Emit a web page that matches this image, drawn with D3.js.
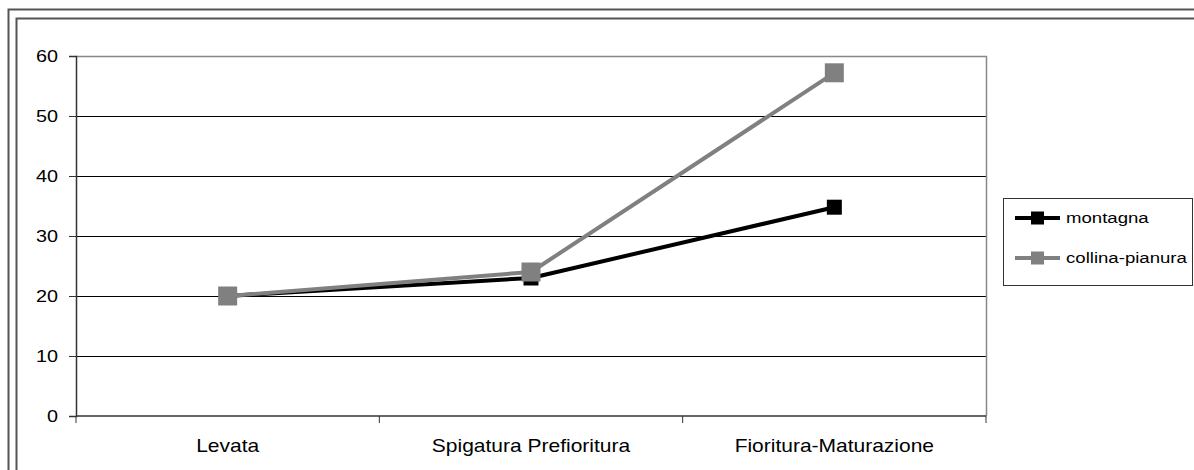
<!DOCTYPE html>
<html>
<head>
<meta charset="utf-8">
<script src="https://cdn.jsdelivr.net/npm/d3@7"></script>
<style>
  html, body { margin: 0; padding: 0; background: #fff; }
  svg { display: block; }
  text { font-family: "Liberation Sans", Arial, sans-serif; fill: #000; }
</style>
</head>
<body>
<svg id="chart" width="1194" height="470"></svg>
<script>
// Phenological stages on the x axis
const categories = ["Levata", "Spigatura Prefioritura", "Fioritura-Maturazione"];
// Series values per stage
const montagna = [20, 23, 34.8];
const collinaPianura = [20, 24, 57.2];
const seriesNames = ["montagna", "collina-pianura"];
// Y axis ticks
const yTicks = [0, 10, 20, 30, 40, 50, 60];

const svg = d3.select("#chart");
const plot = { left: 76, right: 986, top: 56, bottom: 416 };
const stretch = 1.2; // labels are drawn horizontally widened

// Outer double frame
svg.append("rect").attr("x", 8.5).attr("y", 9.5).attr("width", 1300).attr("height", 600)
  .attr("fill", "none").attr("stroke", "#555").attr("stroke-width", 2);
svg.append("rect").attr("x", 16.5).attr("y", 18.5).attr("width", 1300).attr("height", 600)
  .attr("fill", "none").attr("stroke", "#555").attr("stroke-width", 2);

const x = d3.scaleBand().domain(categories).range([plot.left, plot.right]).padding(0);
const y = d3.scaleLinear().domain([0, 60]).range([plot.bottom, plot.top]);

// Gridlines
svg.append("g").selectAll("line").data(yTicks.filter(t => t > 0 && t < 60)).join("line")
  .attr("x1", plot.left).attr("x2", plot.right)
  .attr("y1", d => y(d) + 0.5).attr("y2", d => y(d) + 0.5)
  .attr("stroke", "#000").attr("stroke-width", 1);

// Plot area border (top and right)
svg.append("path")
  .attr("d", `M${plot.left},${y(60) + 0.5}H${plot.right + 0.5}V${plot.bottom}`)
  .attr("fill", "none").attr("stroke", "#888").attr("stroke-width", 1.5);

// Y axis
const yAxis = svg.append("g").attr("transform", `translate(${plot.left},0)`)
  .call(d3.axisLeft(y).tickValues(yTicks).tickSize(7).tickPadding(0).tickFormat(d3.format("d")));
yAxis.select(".domain").attr("stroke", "#333").attr("stroke-width", 1.5);
yAxis.selectAll(".tick line").attr("stroke", "#333");
yAxis.selectAll(".tick text").remove();
yAxis.selectAll(".tick").append("text")
  .attr("transform", `translate(-18,0) scale(${stretch},1)`)
  .attr("text-anchor", "end").attr("dy", "0.35em")
  .style("font-size", "16.5px").style("fill", "#000")
  .text(d => d);

// X axis with ticks at category boundaries
const xAxisG = svg.append("g").attr("transform", `translate(0,${plot.bottom})`);
xAxisG.append("line").attr("x1", plot.left).attr("x2", plot.right)
  .attr("stroke", "#333").attr("stroke-width", 1.5);
const bounds = categories.map(c => x(c)).concat([plot.right]);
xAxisG.selectAll("line.tk").data(bounds).join("line").attr("class", "tk")
  .attr("x1", d => d).attr("x2", d => d).attr("y1", 0).attr("y2", 7)
  .attr("stroke", "#333").attr("stroke-width", 1);
xAxisG.selectAll("text").data(categories).join("text")
  .attr("transform", d => `translate(${x(d) + x.bandwidth() / 2},36) scale(${stretch},1)`)
  .attr("text-anchor", "middle")
  .style("font-size", "17.5px")
  .text(d => d);

const cx = d => x(d) + x.bandwidth() / 2;
const line = d3.line().x(d => cx(d.c)).y(d => y(d.v));

const series = [
  { name: seriesNames[0], values: montagna, color: "#000", marker: 15 },
  { name: seriesNames[1], values: collinaPianura, color: "#808080", marker: 19 }
];

series.forEach(s => {
  const pts = categories.map((c, i) => ({ c, v: s.values[i] }));
  svg.append("path").datum(pts).attr("d", line)
    .attr("fill", "none").attr("stroke", s.color).attr("stroke-width", 4)
    .attr("stroke-linejoin", "round");
  svg.append("g").selectAll("rect").data(pts).join("rect")
    .attr("x", d => cx(d.c) - s.marker / 2).attr("y", d => y(d.v) - s.marker / 2)
    .attr("width", s.marker).attr("height", s.marker)
    .attr("fill", s.color);
});

// Legend
const lg = svg.append("g");
lg.append("rect").attr("x", 1003.5).attr("y", 198.5).attr("width", 189).attr("height", 87)
  .attr("fill", "#fff").attr("stroke", "#333").attr("stroke-width", 1);
series.forEach((s, i) => {
  const ly = 218 + i * 40;
  lg.append("line").attr("x1", 1015).attr("x2", 1060).attr("y1", ly).attr("y2", ly)
    .attr("stroke", s.color).attr("stroke-width", 4);
  lg.append("rect").attr("x", 1031).attr("y", ly - 6.5).attr("width", 13).attr("height", 13)
    .attr("fill", s.color);
  lg.append("text")
    .attr("transform", `translate(1066,${ly}) scale(${stretch},1)`)
    .attr("dy", "0.35em").style("font-size", "15.5px")
    .text(s.name);
});
</script>
</body>
</html>
